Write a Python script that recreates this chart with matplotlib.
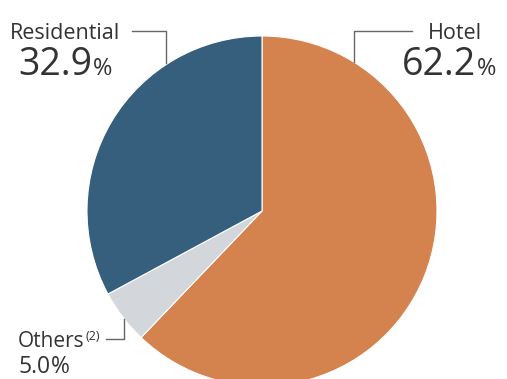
import matplotlib
matplotlib.use('Agg')
import matplotlib.pyplot as plt

labels = ['Hotel', 'Others', 'Residential']
shares = [62.2, 5.0, 32.9]
colors = ['#D4834F', '#D3D6DA', '#365E7D']

W, H = 507, 379
fig = plt.figure(figsize=(W / 100, H / 100), dpi=100)
ax = fig.add_axes([0, 0, 1, 1])

# pie in pixel coords (y measured from bottom)
ax.pie(shares, colors=colors, startangle=90, counterclock=False,
       center=(262, H - 211), radius=175,
       wedgeprops=dict(linewidth=0.8, edgecolor='white'))
ax.set_xlim(0, W)
ax.set_ylim(0, H)
ax.axis('off')

txt = '#333333'
line = '#666666'
font = 'Open Sans'

def y(p):
    return H - p

# leader lines
ax.plot([132, 166, 166], [y(31), y(31), y(63)], color=line, lw=1)
ax.plot([354, 354, 412], [y(62), y(31), y(31)], color=line, lw=1)
ax.plot([106, 124, 124], [y(339), y(339), y(319)], color=line, lw=1)

fig.canvas.draw()
r = fig.canvas.get_renderer()

def label(x, base, s, size, ha='left'):
    return ax.text(x, y(base), s, fontsize=size, color=txt, family=font,
                   va='baseline', ha=ha)

def pct(x, base, value, size, psize):
    t = label(x, base, value, size)
    bb = t.get_window_extent(r)
    label(bb.x1 + 1, base, '%', psize)

label(10, 39, 'Residential', 15.5)
label(482, 39, 'Hotel', 15.5, ha='right')
o = label(18, 347, 'Others', 15)
ob = o.get_window_extent(r)
label(ob.x1 + 1, 340, '(2)', 9)

pct(18, 75, '32.9', 27, 17)
pct(402, 75, '62.2', 27, 17)
pct(18, 373, '5.0', 16.5, 16.5)

fig.savefig('out.png', dpi=100, facecolor='white')
